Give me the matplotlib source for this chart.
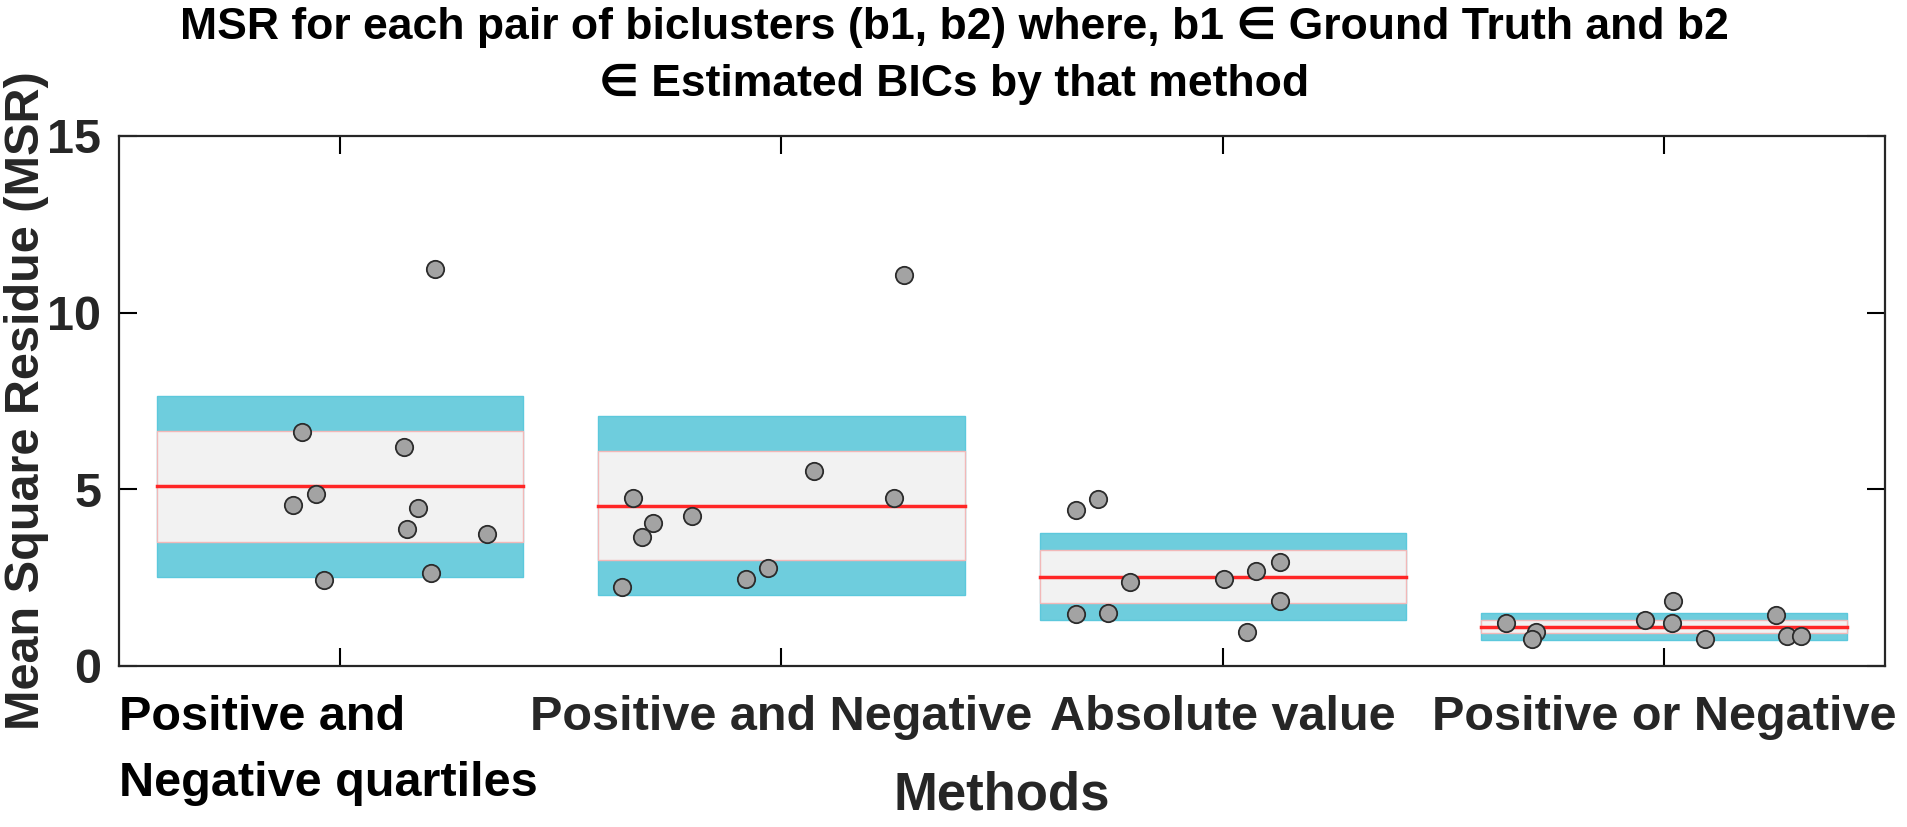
import numpy as np
import matplotlib as mpl
mpl.use("Agg")
import matplotlib.pyplot as plt
from matplotlib.patches import Rectangle
from matplotlib.transforms import ScaledTranslation

methods = ["Positive and\nNegative quartiles", "Positive and Negative",
           "Absolute value", "Positive or Negative"]

# per-method summary: mean, 95% CI half-width, SD
means = [5.08, 4.54, 2.53, 1.11]
ci_half = [1.56, 1.54, 0.76, 0.19]
sd_half = [2.55, 2.52, 1.23, 0.38]

# scatter points per method: jitter offset from the method's tick and MSR value
msr_1 = [11.23, 6.63, 6.21, 4.86, 4.56, 4.46, 3.87, 3.73, 2.64, 2.43]
jit_1 = [0.214, -0.087, 0.145, -0.055, -0.106, 0.176, 0.152, 0.333, 0.206, -0.036]
msr_2 = [11.06, 5.53, 4.74, 4.74, 4.25, 4.04, 3.66, 2.78, 2.45, 2.23]
jit_2 = [0.277, 0.073, -0.336, 0.255, -0.202, -0.292, -0.317, -0.030, -0.081, -0.362]
msr_3 = [4.73, 4.42, 2.95, 2.69, 2.47, 2.38, 1.85, 1.51, 1.46, 0.96]
jit_3 = [-0.283, -0.333, 0.130, 0.076, 0.003, -0.211, 0.130, -0.261, -0.333, 0.054]
msr_4 = [1.83, 1.43, 1.22, 1.30, 1.22, 0.96, 0.77, 0.77, 0.85, 0.85]
jit_4 = [0.020, 0.254, -0.359, -0.044, 0.018, -0.291, -0.300, 0.092, 0.278, 0.310]

msr = [msr_1, msr_2, msr_3, msr_4]
jit = [jit_1, jit_2, jit_3, jit_4]

plt.rcParams["font.family"] = ["Liberation Sans", "DejaVu Sans"]
plt.rcParams["font.weight"] = "bold"
plt.rcParams["axes.labelweight"] = "bold"
plt.rcParams["axes.titleweight"] = "bold"

fig = plt.figure(figsize=(19.08, 8.27), dpi=100)
ax = fig.add_axes([0.0626, 0.1947, 0.9253, 0.641])

half_w = 0.415
for i in range(len(methods)):
    x = i + 1
    m = means[i]
    ax.add_patch(Rectangle((x - half_w, m - sd_half[i]), 2 * half_w, 2 * sd_half[i],
                           facecolor="#6ecddd", edgecolor="#5cc8dc", lw=1, zorder=1))
    ax.add_patch(Rectangle((x - half_w, m - ci_half[i]), 2 * half_w, 2 * ci_half[i],
                           facecolor="#f2f2f2", edgecolor="#f2b8b8", lw=1, zorder=2))
    ax.plot([x - half_w, x + half_w], [m, m], color="#ff2626", lw=2.5, zorder=3)
    ax.plot(x + np.array(jit[i]), msr[i], "o", ms=12.5, mfc="#a3a3a3",
            mec="#2b2b2b", mew=1.3, zorder=4)

ax.set_xlim(0.5, 4.5)
ax.set_ylim(0, 15)
ax.set_xticks([1, 2, 3, 4])
ax.set_xticklabels(methods, linespacing=1.6, multialignment="left")
ax.set_yticks([0, 5, 10, 15])
ax.tick_params(axis="both", direction="in", length=13, width=1.5,
               top=True, right=True, labelsize=35, labelcolor="#262626")
ax.tick_params(axis="x", pad=21)
ax.tick_params(axis="y", pad=13)
for s in ax.spines.values():
    s.set_linewidth(1.6)
    s.set_color("#262626")

# the two-line label sits a little left of its tick and reads darker
first = ax.get_xticklabels()[0]
first.set_color("black")
first.set_transform(first.get_transform() + ScaledTranslation(-0.12, 0, fig.dpi_scale_trans))

ax.set_xlabel("Methods", fontsize=38, color="#262626")
ax.xaxis.label.set_va("center")
ax.xaxis.set_label_coords(0.5, -0.245)
ax.set_ylabel("Mean Square Residue (MSR)", fontsize=35, color="#262626")
ax.yaxis.label.set_va("baseline")
ax.yaxis.set_label_coords(-0.0455, 0.5)

fig.text(0.5, 0.932,
         "MSR for each pair of biclusters (b1, b2) where, b1 \u2208 Ground Truth and b2\n"
         "\u2208 Estimated BICs by that method",
         ha="center", va="center", fontsize=32, fontweight="bold", linespacing=1.5)

plt.savefig("out.png", dpi=100)
